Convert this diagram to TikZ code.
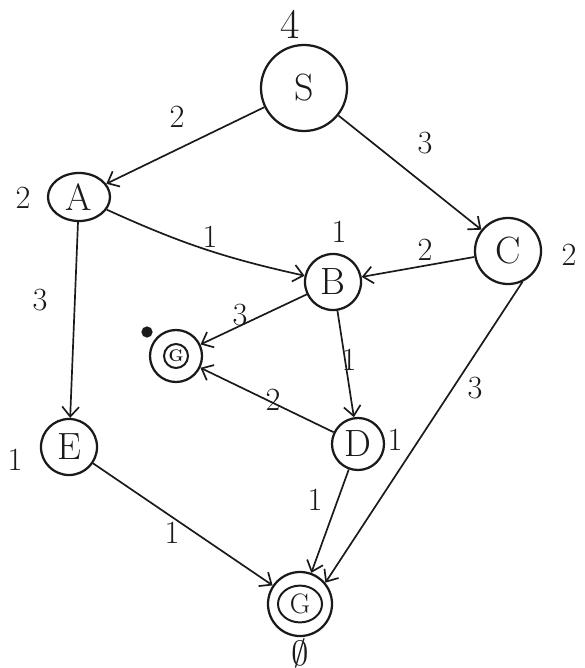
\documentclass[tikz,border=0pt]{standalone}
\usepackage{amsmath, amssymb}
\usepackage{fontspec}
\usepackage{xcolor}
\usepackage{tikz}
\definecolor{ink}{HTML}{1A1A1A}
\usetikzlibrary{arrows.meta,shapes.geometric}

\begin{document}
\begin{tikzpicture}[x=0.025cm,y=-0.025cm,
  st/.style={circle,draw=ink,line width=1.6pt,inner sep=0pt,
             font=\fontsize{27}{29}\selectfont,text=ink},
  lbl/.style={font=\fontsize{23}{25}\selectfont,text=ink},
  arr/.style={-{Straight Barb[length=7pt,width=12pt,line width=1.2pt]},
              color=ink,line width=1.2pt}]
  \useasboundingbox (0,0) rectangle (584,668);
  \node[st,minimum size=2.15cm] (S) at (304,88) {S};
  \node[st,ellipse,minimum width=1.55cm,minimum height=1.2cm] (A) at (79,197) {A};
  \node[st,minimum size=1.4cm]  (B) at (333,282) {B};
  \node[st,minimum size=1.65cm] (C) at (508,251) {C};
  \node[st,minimum size=1.3cm]  (g) at (176,356) {};
  \node[st,minimum size=1.3cm]  (D) at (358,444) {D};
  \node[st,minimum size=1.4cm]  (E) at (69,447) {E};
  \node[st,minimum size=1.6cm]  (G) at (300,604) {};
  % inner rings of the goal nodes
  \draw[ink,line width=1.4pt] (g) circle[radius=0.3cm];
  \node[font=\fontsize{12}{14}\selectfont\bfseries,text=ink] (gl) at (g) {G};
  \draw[ink,line width=1.4pt] (G) circle[x radius=0.55cm,y radius=0.46cm];
  \node[font=\fontsize{20}{22}\selectfont,text=ink] (Gl) at (G) {G};
  % heuristic values
  \node[lbl,font=\fontsize{30}{32}\selectfont] (hS) at (290,24) {4};
  \node[lbl] (hA) at (23,198) {2};
  \node[lbl] (hB) at (339,232) {1};
  \node[lbl] (hC) at (569,255) {2};
  \node[circle,fill=ink,minimum size=8pt,inner sep=0pt] (hg) at (147,332) {};
  \node[lbl] (hD) at (395,440) {1};
  \node[lbl] (hE) at (15,460) {1};
  \node[lbl] (hG) at (300,653) {$\emptyset$};
  % edges
  \draw[arr](S)--(A);\draw[arr](S)--(C);
  \draw[arr](A) to[bend right=6] (B);\draw[arr](C)--(B);
  \draw[arr](A)--(E);\draw[arr](B)--(g);
  \draw[arr](B)--(D);\draw[arr](D)--(g);
  \draw[arr](C.-65)--(G.40);\draw[arr](E)--(G);\draw[arr](D)--(G);
  % edge costs
  \node[lbl] (wSA) at (177,117) {2};
  \node[lbl] (wSC) at (425,143) {3};
  \node[lbl] (wAB) at (210,237) {1};
  \node[lbl] (wCB) at (425,250) {2};
  \node[lbl] (wAE) at (40,300) {3};
  \node[lbl] (wBg) at (240,315) {3};
  \node[lbl] (wBD) at (349,360) {1};
  \node[lbl] (wDg) at (273,400) {2};
  \node[lbl] (wCG) at (475,388) {3};
  \node[lbl] (wEG) at (172,533) {1};
  \node[lbl] (wDG) at (315,500) {1};
\end{tikzpicture}
\end{document}
